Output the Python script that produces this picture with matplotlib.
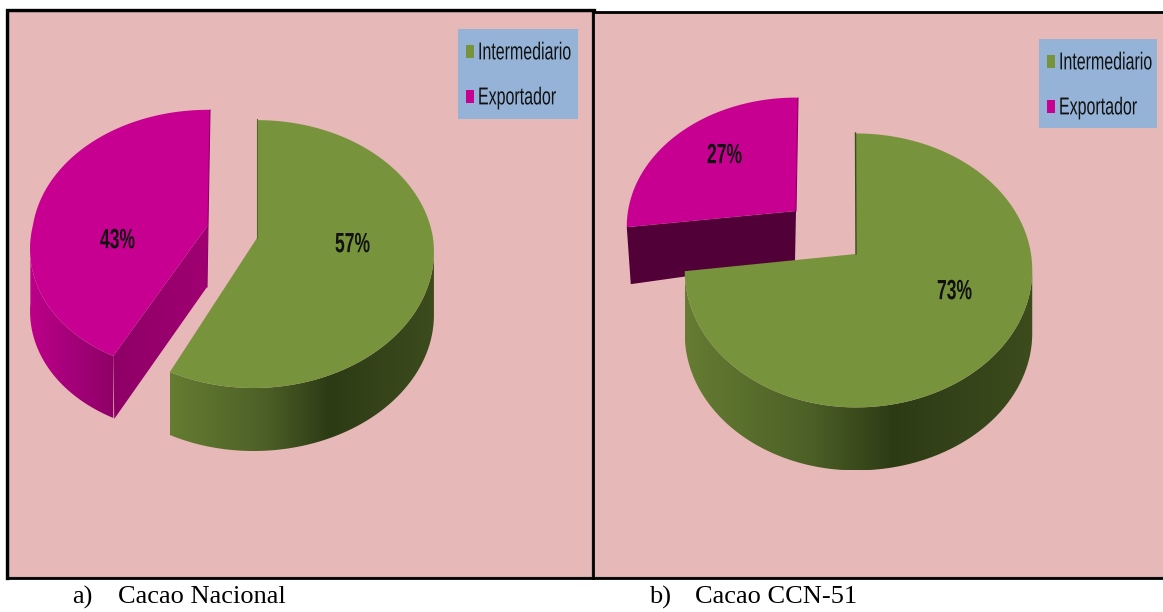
import numpy as np
import matplotlib
matplotlib.use('Agg')
import matplotlib.pyplot as plt
from matplotlib.colors import LinearSegmentedColormap
from matplotlib.patches import Polygon, Rectangle
from matplotlib.patheffects import AbstractPathEffect
from matplotlib.transforms import Affine2D

categories = ['Intermediario', 'Exportador']
nacional_values = [57, 43]
ccn_values = [73, 27]
captions = ['a)', 'Cacao Nacional', 'b)', 'Cacao CCN-51']

BG = '#E6B8B7'
LEGEND_BG = '#95B3D7'
GREEN = '#77933C'
MAGENTA = '#C80092'

green_wall = LinearSegmentedColormap.from_list(
    'gw', [(0, '#657c32'), (0.35, '#4d6127'), (0.6, '#2d3b15'), (1, '#3c4c1d')])
mag_wall = LinearSegmentedColormap.from_list('mw', ['#bc0088', '#a4007a', '#8e0066'])
mag_cut = LinearSegmentedColormap.from_list('mc', ['#8e0066', '#a00072'])

fig = plt.figure(figsize=(11.63, 6.12), dpi=100)
ax = fig.add_axes([0, 0, 1, 1])
ax.set_xlim(0, 1163)
ax.set_ylim(612, 0)
ax.axis('off')


class Stretch(AbstractPathEffect):
    # the source uses a condensed face, none is installed so stretch the glyphs upward
    def __init__(self, sy, y0):
        super().__init__()
        self.sy, self.y0 = sy, y0

    def draw_path(self, renderer, gc, tpath, affine, rgbFace=None):
        py = ax.transData.transform((0, self.y0))[1]
        tall = Affine2D().translate(0, -py).scale(1, self.sy).translate(0, py)
        renderer.draw_path(gc, tpath, affine + tall, rgbFace)


def narrow(x, y, s, sy, **kw):
    t = ax.text(x, y, s, ha='left', va='center', family='Liberation Sans',
                color='#111111', zorder=6, **kw)
    t.set_path_effects([Stretch(sy, y)])


def rim(apex, R, S, theta, k=0.12, dx=0.0, front_skew=0.0):
    # theta in degrees, clockwise from 12 o'clock, with a bit of perspective
    t = np.radians(theta)
    X, Y = np.sin(t), np.cos(t)
    w = 1 + k * Y
    x = apex[0] + R * X / w + dx * np.abs(X) + front_skew * np.minimum(Y, 0) / w
    return np.column_stack([x, apex[1] - S * Y / w])


def gradient_poly(pts, cmap, x0, x1, zorder):
    poly = Polygon(pts, closed=True, fc='none', ec='none', transform=ax.transData)
    ax.add_patch(poly)
    grad = np.linspace(0, 1, 256).reshape(1, -1)
    y0, y1 = pts[:, 1].min(), pts[:, 1].max()
    im = ax.imshow(grad, cmap=cmap, extent=[x0, x1, y1, y0], aspect='auto', zorder=zorder)
    im.set_clip_path(poly)


def wall(apex, R, S, a0, a1, depth, cmap, zorder, **kw):
    th = np.linspace(a0, a1, 120)
    top = rim(apex, R, S, th, **kw)
    low = top + [0, depth]
    pts = np.vstack([top, low[::-1]])
    gradient_poly(pts, cmap, pts[:, 0].min(), pts[:, 0].max(), zorder)


def face(apex, R, S, a0, a1, color, zorder, tip=None, **kw):
    th = np.linspace(a0, a1, 160)
    pts = np.vstack([[apex], rim(apex, R, S, th, **kw)])
    if tip is not None:
        pts = np.vstack([pts, [tip]])
    ax.add_patch(Polygon(pts, closed=True, fc=color, ec='none', zorder=zorder))


def legend(x, y, w, h):
    ax.add_patch(Rectangle((x, y), w, h, fc=LEGEND_BG, ec='none', zorder=5))
    for i, (name, col) in enumerate(zip(categories, [GREEN, MAGENTA])):
        yy = y + 22.5 + i * 45
        ax.add_patch(Rectangle((x + 8, yy - 6.5), 8, 13, fc=col, ec='none', zorder=6))
        narrow(x + 20, yy + 1, name, 1.53, fontsize=11.5)


def slice_angle(values):
    return 360.0 * values[0] / sum(values)


# panel backgrounds and frames
ax.add_patch(Rectangle((8, 11), 584, 566, fc=BG, ec='#8a8a8a', lw=1, zorder=1))
ax.add_patch(Rectangle((592, 12), 572, 565, fc=BG, ec='#8a8a8a', lw=1, zorder=1))
ax.plot([7, 7, 594], [578, 10, 10], color='black', lw=2.4, zorder=2, solid_joinstyle='miter')
ax.plot([593, 593], [11, 578], color='black', lw=2, zorder=2)
ax.plot([593, 1163], [11.5, 11.5], color='black', lw=2, zorder=2)
ax.plot([7, 1163], [578, 578], color='black', lw=2, zorder=2)

# a) Cacao Nacional
cut = slice_angle(nacional_values)
mag_apex = (208, 225)
mag_kw = dict(front_skew=11)
wall(mag_apex, 175, 129, cut, 263, 62, mag_wall, 3, **mag_kw)
corner = rim(mag_apex, 175, 129, cut, **mag_kw)
cut_pts = np.vstack([[mag_apex], corner, corner + [1, 63], [[mag_apex[0] - 1, mag_apex[1] + 62]]])
gradient_poly(cut_pts, mag_cut, 113, 208, 3.2)
face(mag_apex, 175, 129, cut, 360, MAGENTA, 3.5, tip=(210, 110), **mag_kw)
ax.plot([210, 208, 207], [110, 225, 287], color='#8e0066', lw=0.8, zorder=3.6)
gr_apex = (257, 238)
wall(gr_apex, 176, 132, 97, cut, 63, green_wall, 3, front_skew=3)
face(gr_apex, 176, 132, 0, cut, GREEN, 3.5, front_skew=3)
ax.plot([257, 257], [119, 238], color='#55692b', lw=0.8, zorder=3.6)
narrow(100, 241, f'{nacional_values[1]}%', 1.59, fontsize=12.6, fontweight='bold')
narrow(335, 245, f'{nacional_values[0]}%', 1.59, fontsize=12.6, fontweight='bold')
legend(458, 29, 120, 90)

# b) Cacao CCN-51
cut = slice_angle(ccn_values)
mag_apex = (796, 211)
corner = rim(mag_apex, 168, 127, cut)
dark = np.vstack([[mag_apex], corner, corner + [4, 57], [[mag_apex[0] - 1, mag_apex[1] + 50]]])
ax.add_patch(Polygon(dark, closed=True, fc='#510038', ec='none', zorder=3))
face(mag_apex, 168, 127, cut, 360, MAGENTA, 3.5, tip=(798, 98))
ax.plot([798, 796], [98, 211], color='#8e0066', lw=0.8, zorder=3.6)
gr_apex = (856, 254)
wall(gr_apex, 172.5, 135, 97, cut, 63, green_wall, 3.6, dx=2.5)
face(gr_apex, 172.5, 135, 0, cut, GREEN, 3.8, dx=2.5)
ax.plot([855.5, 856], [133, 254], color='#3c4c1d', lw=1, zorder=3.9)
narrow(707, 156, f'{ccn_values[1]}%', 1.59, fontsize=12.6, fontweight='bold')
narrow(937, 292, f'{ccn_values[0]}%', 1.59, fontsize=12.6, fontweight='bold')
legend(1039, 39, 118, 89)

# captions under the panels
for x, s in zip([72, 118, 649, 695], captions):
    ax.text(x, 597, s, family='Liberation Serif', fontsize=19, color='black', ha='left', va='center')

ax.set_xlim(0, 1163)
ax.set_ylim(612, 0)
fig.savefig('out.png', dpi=100)
